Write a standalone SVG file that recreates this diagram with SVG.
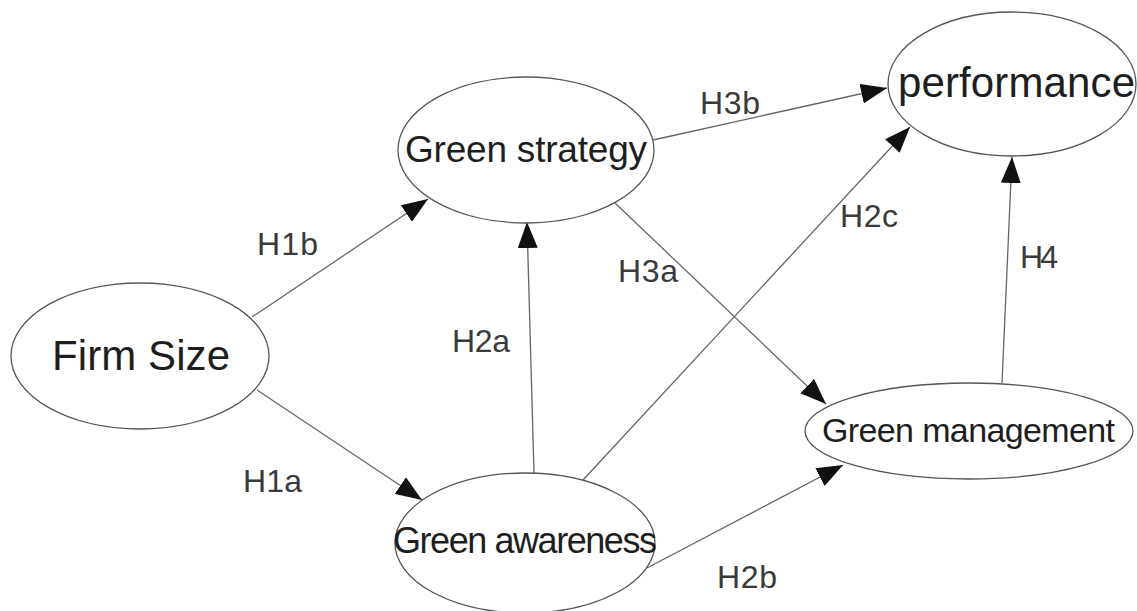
<svg xmlns="http://www.w3.org/2000/svg" width="1137" height="611" viewBox="0 0 1137 611">
<style>
.node{fill:#fff;stroke:#555;stroke-width:1.3}
.nt{font-family:"Liberation Sans",Arial,sans-serif;fill:#1e1e1e}
.edge{stroke:#666;stroke-width:1.3;fill:none;marker-end:url(#ah)}
.lbl{font-family:"Liberation Sans",Arial,sans-serif;font-size:32px;fill:#3a3a3a}
</style>
<defs>
<marker id="ah" viewBox="0 0 26 20" refX="26" refY="10" markerWidth="26" markerHeight="20" markerUnits="userSpaceOnUse" orient="auto">
<path d="M0,0 L26,10 L0,20 z" fill="#111"/>
</marker>
</defs>
<rect width="1137" height="611" fill="#fff"/>
<g id="connectors">
<line class="edge" x1="252" y1="317" x2="428" y2="199"/>
<line class="edge" x1="257" y1="390" x2="422" y2="500"/>
<line class="edge" x1="534" y1="473" x2="527" y2="222"/>
<line class="edge" x1="583" y1="480" x2="910" y2="127"/>
<line class="edge" x1="647" y1="568" x2="843" y2="465"/>
<line class="edge" x1="615" y1="203" x2="826" y2="404"/>
<line class="edge" x1="653" y1="140" x2="887" y2="88"/>
<line class="edge" x1="1002" y1="383" x2="1012" y2="157"/>
<text class="lbl" x="257" y="255" textLength="61">H1b</text>
<text class="lbl" x="243" y="492" textLength="59">H1a</text>
<text class="lbl" x="452" y="352" textLength="58">H2a</text>
<text class="lbl" x="700" y="114" textLength="60">H3b</text>
<text class="lbl" x="840" y="227" textLength="58">H2c</text>
<text class="lbl" x="618" y="282" textLength="60">H3a</text>
<text class="lbl" x="1020" y="268" textLength="38">H4</text>
<text class="lbl" x="717" y="588" textLength="60">H2b</text>
</g>
<g id="firm-size">
<ellipse class="node" cx="140" cy="356" rx="129" ry="73"/>
<text class="nt" x="52" y="370" font-size="42" textLength="178">Firm Size</text>
</g>
<g id="green-strategy">
<ellipse class="node" cx="526" cy="150" rx="128" ry="73"/>
<text class="nt" x="405" y="162" font-size="37" textLength="242">Green strategy</text>
</g>
<g id="performance">
<ellipse class="node" cx="1012" cy="84" rx="124" ry="72"/>
<text class="nt" x="898" y="97" font-size="42" textLength="237">performance</text>
</g>
<g id="green-management">
<ellipse class="node" cx="969" cy="431" rx="164" ry="48"/>
<text class="nt" x="822" y="442" font-size="34" textLength="293">Green management</text>
</g>
<g id="green-awareness">
<ellipse class="node" cx="525" cy="543" rx="130" ry="70"/>
<text class="nt" x="393" y="553" font-size="36" textLength="264">Green awareness</text>
</g>
</svg>
